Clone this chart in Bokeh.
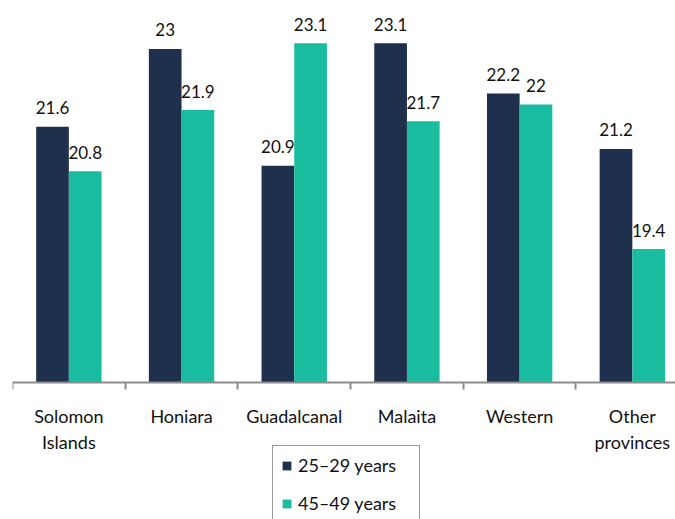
from bokeh.plotting import figure
from bokeh.models import (ColumnDataSource, Range1d, LinearAxis, FixedTicker, Legend, LegendItem)
from bokeh.transform import dodge
from bokeh.core.properties import value
from bokeh.embed import file_html
from bokeh.resources import INLINE

categories = ["Solomon\nIslands", "Honiara", "Guadalcanal", "Malaita", "Western", "Other\nprovinces"]
age_25_29 = [21.6, 23.0, 20.9, 23.1, 22.2, 21.2]
age_45_49 = [20.8, 21.9, 23.1, 21.7, 22.0, 19.4]
label_25_29 = ["21.6", "23", "20.9", "23.1", "22.2", "21.2"]
label_45_49 = ["20.8", "21.9", "23.1", "21.7", "22", "19.4"]
series_names = ["25\u201329 years", "45\u201349 years"]

DARK = "#1f304c"
TEAL = "#1abc9f"
FONT = "Lato"
BASE = 17

centers = [i + 0.5 for i in range(len(categories))]
src = ColumnDataSource(dict(x=centers, a=age_25_29, b=age_45_49, la=label_25_29, lb=label_45_49))

p = figure(width=675, height=519, output_backend="svg", toolbar_location=None,
           x_axis_location=None, y_axis_location=None,
           x_range=Range1d(0, 5.883), y_range=Range1d(14.536, 23.727),
           min_border_left=12, min_border_right=0, min_border_top=8, min_border_bottom=0)
p.outline_line_color = None
p.xgrid.visible = False
p.ygrid.visible = False

off = 0.145
w = 0.29
r1 = p.vbar(x=dodge("x", -off, range=p.x_range), top="a", bottom=BASE, width=w, source=src,
            fill_color=DARK, line_color=None)
r2 = p.vbar(x=dodge("x", off, range=p.x_range), top="b", bottom=BASE, width=w, source=src,
            fill_color=TEAL, line_color=None)

for col, lab, d in (("a", "la", -off), ("b", "lb", off)):
    p.text(x=dodge("x", d, range=p.x_range), y=col, text=lab, source=src,
           text_align="center", text_baseline="alphabetic", y_offset=-19,
           text_font=value(FONT), text_font_size="17px", text_color="#111111")

ax = LinearAxis(ticker=FixedTicker(ticks=centers, minor_ticks=list(range(len(categories) + 1))),
                fixed_location=BASE)
ax.major_label_overrides = {c: lab for c, lab in zip(centers, categories)}
ax.axis_line_color = "#8c8c8c"
ax.axis_line_width = 2
ax.major_tick_line_color = None
ax.major_tick_out = 0
ax.major_tick_in = 0
ax.minor_tick_line_color = "#8c8c8c"
ax.minor_tick_line_width = 2
ax.minor_tick_out = 7
ax.minor_tick_in = 0
ax.major_label_standoff = 15
ax.major_label_text_font = FONT
ax.major_label_text_font_size = "18px"
ax.major_label_text_color = "#111111"
p.add_layout(ax, "below")

legend = Legend(items=[LegendItem(label=series_names[0], renderers=[r1]),
                       LegendItem(label=series_names[1], renderers=[r2])],
                location=(260, -4), orientation="vertical")
legend.label_text_font = FONT
legend.label_text_font_size = "18px"
legend.label_text_color = "#111111"
legend.glyph_width = 11
legend.glyph_height = 11
legend.label_standoff = 6
legend.label_height = 20
legend.label_width = 113
legend.spacing = 16
legend.padding = 8
legend.margin = 0
legend.border_line_color = "#333333"
legend.border_line_width = 1
legend.background_fill_alpha = 1
p.add_layout(legend)

open("out.html", "w").write(file_html(p, INLINE))
